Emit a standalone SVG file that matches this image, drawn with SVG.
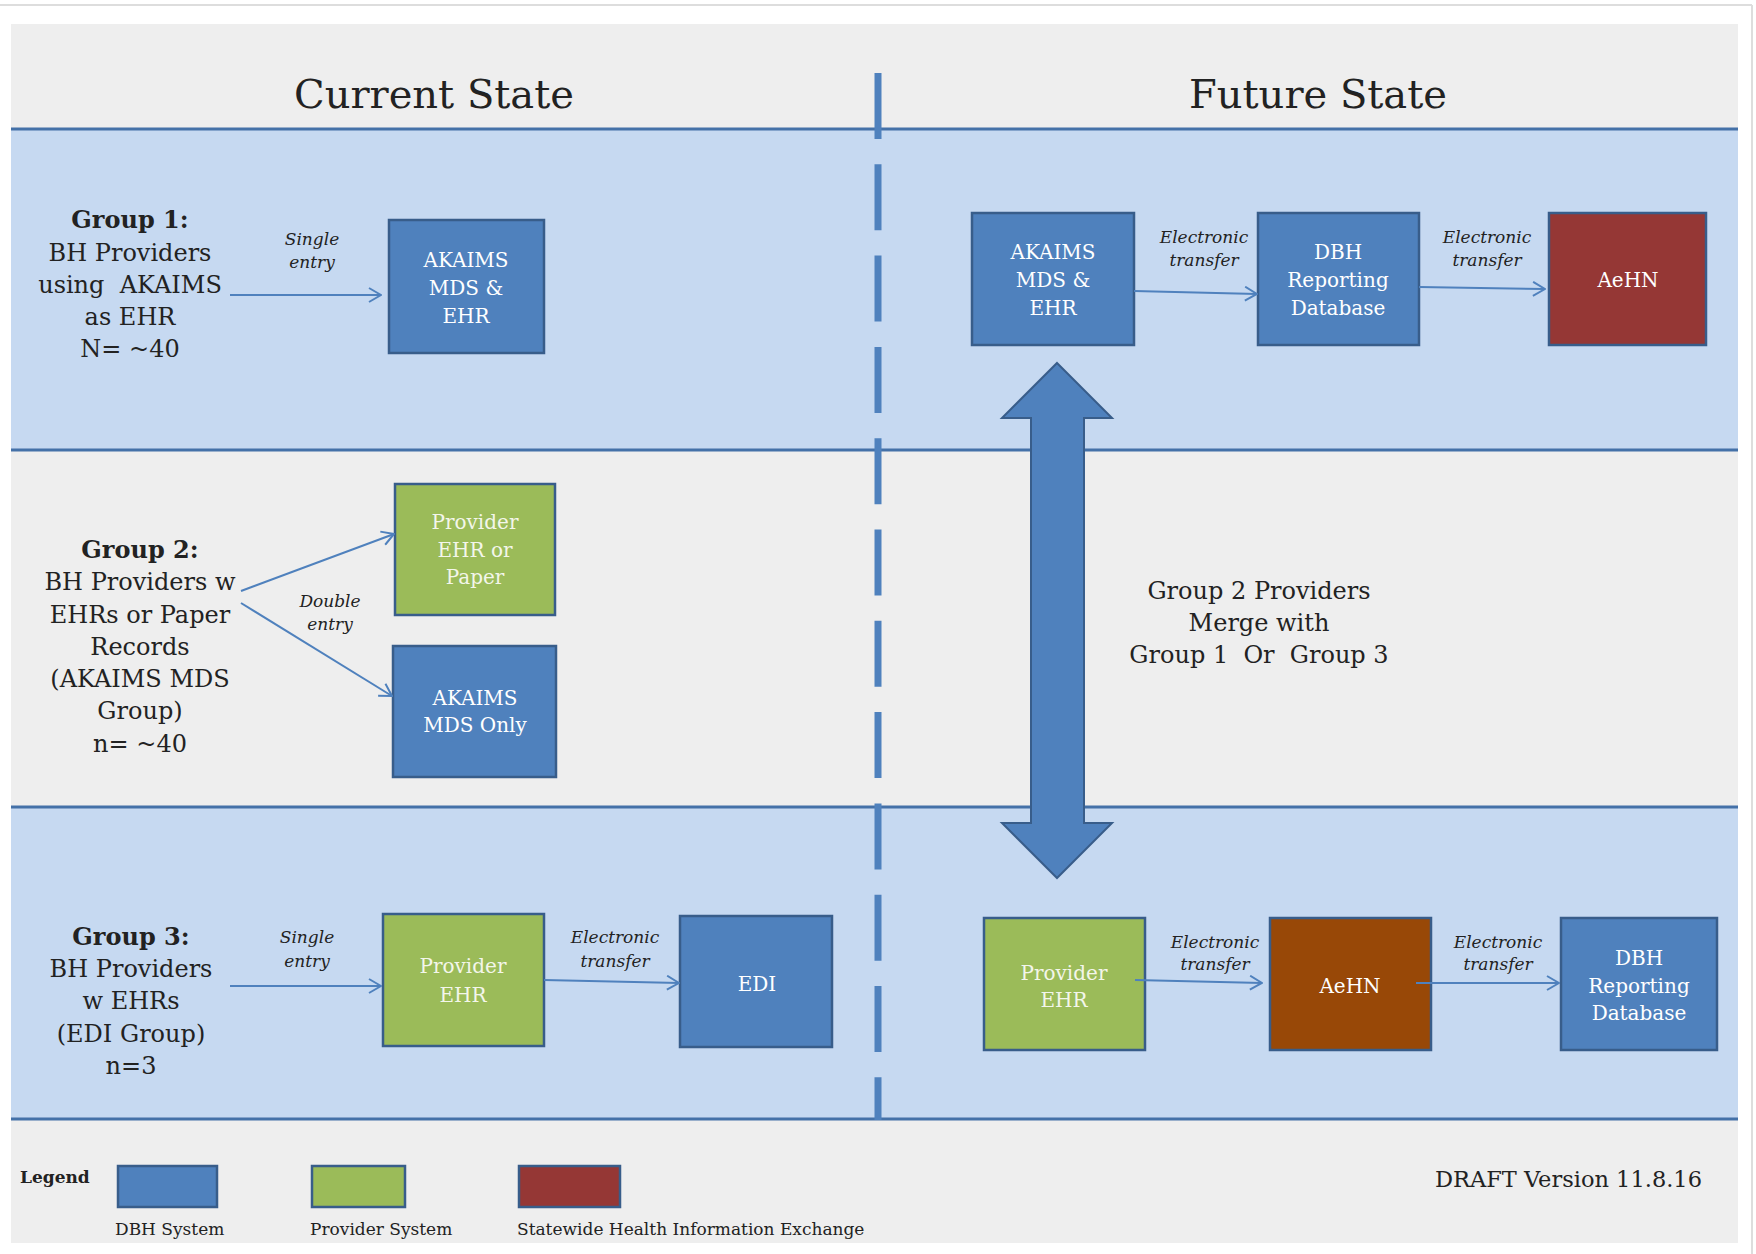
<svg xmlns="http://www.w3.org/2000/svg" width="1756" height="1254" viewBox="0 0 1756 1254">
<style>
.t{font-family:"DejaVu Serif","Liberation Serif",serif;fill:#222}
.title{font-size:40px;text-anchor:middle}
.body{font-size:24px;text-anchor:middle}
.pre{white-space:pre}
.b{font-weight:bold}
.lbl{font-size:17px;font-style:italic;text-anchor:middle}
.bx{font-family:"DejaVu Serif","Liberation Serif",serif;font-size:20px;fill:#ffffff;text-anchor:middle}
.gx{fill:#f3f6ea}
.blue{fill:#4f81bd;stroke:#385d8a;stroke-width:2.5}
.green{fill:#9bbb59;stroke:#385d8a;stroke-width:2.5}
.red{fill:#953735;stroke:#385d8a;stroke-width:2.5}
.orange{fill:#984807;stroke:#385d8a;stroke-width:2.5}
.conn{stroke:#4f81bd;stroke-width:2;fill:none;marker-end:url(#ah)}
.sep{stroke:#4471a8;stroke-width:3}
.leg{font-size:17px}
</style>
<defs>
<marker id="ah" viewBox="0 0 14 16" refX="13" refY="8" markerWidth="14" markerHeight="16" markerUnits="userSpaceOnUse" orient="auto">
<path d="M1,1 L13,8 L1,15" fill="none" stroke="#4f81bd" stroke-width="2"/>
</marker>
</defs>
<rect x="0" y="0" width="1756" height="1254" fill="#ffffff"/>
<line x1="0" y1="5" x2="1752" y2="5" stroke="#dddddd" stroke-width="2"/>
<line x1="1752" y1="5" x2="1752" y2="1254" stroke="#dddddd" stroke-width="2"/>
<g id="background">
<rect x="11" y="24" width="1727" height="1219" fill="#eeeeee"/>
<rect x="11" y="129" width="1727" height="321" fill="#c6d9f1"/>
<rect x="11" y="807" width="1727" height="312" fill="#c6d9f1"/>
<line class="sep" x1="11" y1="129" x2="1738" y2="129"/>
<line class="sep" x1="11" y1="450" x2="1738" y2="450"/>
<line class="sep" x1="11" y1="807" x2="1738" y2="807"/>
<line class="sep" x1="11" y1="1119" x2="1738" y2="1119"/>
<line x1="878" y1="73" x2="878" y2="1120" stroke="#4f81bd" stroke-width="7" stroke-dasharray="66 25.3"/>
<text class="t title" x="434" y="108">Current State</text>
<text class="t title" x="1318" y="108">Future State</text>
</g>
<g id="group1-label">
<text class="t body pre" x="130" xml:space="preserve"><tspan class="b" x="130" y="228">Group 1:</tspan><tspan x="130" y="261">BH Providers</tspan><tspan x="130" y="293">using  AKAIMS</tspan><tspan x="130" y="325">as EHR</tspan><tspan x="130" y="357">N= ~40</tspan></text>
</g>
<g id="group2-label">
<text class="t body" x="140"><tspan class="b" x="140" y="558">Group 2:</tspan><tspan x="140" y="590">BH Providers w</tspan><tspan x="140" y="623">EHRs or Paper</tspan><tspan x="140" y="655">Records</tspan><tspan x="140" y="687">(AKAIMS MDS</tspan><tspan x="140" y="719">Group)</tspan><tspan x="140" y="752">n= ~40</tspan></text>
</g>
<g id="group3-label">
<text class="t body" x="131"><tspan class="b" x="131" y="945">Group 3:</tspan><tspan x="131" y="977">BH Providers</tspan><tspan x="131" y="1009">w EHRs</tspan><tspan x="131" y="1042">(EDI Group)</tspan><tspan x="131" y="1074">n=3</tspan></text>
</g>
<g id="cur-akaims">
<rect class="blue" x="389" y="220" width="155" height="133"/>
<text class="bx"><tspan x="466" y="267">AKAIMS</tspan><tspan x="466" y="295">MDS &amp;</tspan><tspan x="466" y="323">EHR</tspan></text>
</g>
<g id="cur-provider-ehr-paper">
<rect class="green" x="395" y="484" width="160" height="131"/>
<text class="bx gx"><tspan x="475" y="529">Provider</tspan><tspan x="475" y="557">EHR or</tspan><tspan x="475" y="584">Paper</tspan></text>
</g>
<g id="cur-akaims-mds-only">
<rect class="blue" x="393" y="646" width="163" height="131"/>
<text class="bx"><tspan x="475" y="705">AKAIMS</tspan><tspan x="475" y="732">MDS Only</tspan></text>
</g>
<g id="cur-provider-ehr">
<rect class="green" x="383" y="914" width="161" height="132"/>
<text class="bx gx"><tspan x="463" y="973">Provider</tspan><tspan x="463" y="1002">EHR</tspan></text>
</g>
<g id="cur-edi">
<rect class="blue" x="680" y="916" width="152" height="131"/>
<text class="bx" x="757" y="991">EDI</text>
</g>
<g id="fut-akaims">
<rect class="blue" x="972" y="213" width="162" height="132"/>
<text class="bx"><tspan x="1053" y="259">AKAIMS</tspan><tspan x="1053" y="287">MDS &amp;</tspan><tspan x="1053" y="315">EHR</tspan></text>
</g>
<g id="fut-dbh-1">
<rect class="blue" x="1258" y="213" width="161" height="132"/>
<text class="bx"><tspan x="1338" y="259">DBH</tspan><tspan x="1338" y="287">Reporting</tspan><tspan x="1338" y="315">Database</tspan></text>
</g>
<g id="fut-aehn-1">
<rect class="red" x="1549" y="213" width="157" height="132"/>
<text class="bx" x="1628" y="287">AeHN</text>
</g>
<g id="merge-note">
<text class="t body pre" xml:space="preserve"><tspan x="1259" y="599">Group 2 Providers</tspan><tspan x="1259" y="631">Merge with</tspan><tspan x="1259" y="663">Group 1  Or  Group 3</tspan></text>
</g>
<g id="fut-provider-ehr">
<rect class="green" x="984" y="918" width="161" height="132"/>
<text class="bx gx"><tspan x="1064" y="980">Provider</tspan><tspan x="1064" y="1007">EHR</tspan></text>
</g>
<g id="fut-aehn-3">
<rect class="orange" x="1270" y="918" width="161" height="132"/>
<text class="bx" x="1350" y="993">AeHN</text>
</g>
<g id="fut-dbh-3">
<rect class="blue" x="1561" y="918" width="156" height="132"/>
<text class="bx"><tspan x="1639" y="965">DBH</tspan><tspan x="1639" y="993">Reporting</tspan><tspan x="1639" y="1020">Database</tspan></text>
</g>
<g id="connectors">
<polygon points="1057,363 1112,418 1084,418 1084,823 1112,823 1057,878 1002,823 1031,823 1031,418 1002,418" fill="#4f81bd" stroke="#385d8a" stroke-width="2"/>
<line class="conn" x1="230" y1="295" x2="381" y2="295"/>
<line class="conn" x1="241" y1="591" x2="394" y2="534"/>
<line class="conn" x1="241" y1="603" x2="392" y2="696"/>
<line class="conn" x1="230" y1="986" x2="381" y2="986"/>
<line class="conn" x1="544" y1="980" x2="679" y2="983"/>
<line class="conn" x1="1134" y1="291" x2="1257" y2="294"/>
<line class="conn" x1="1419" y1="287" x2="1545" y2="289"/>
<line class="conn" x1="1135" y1="980" x2="1262" y2="983"/>
<line class="conn" x1="1416" y1="983" x2="1559" y2="983"/>
<text class="t lbl"><tspan x="312" y="245">Single</tspan><tspan x="312" y="268">entry</tspan></text>
<text class="t lbl"><tspan x="330" y="607">Double</tspan><tspan x="330" y="630">entry</tspan></text>
<text class="t lbl"><tspan x="307" y="943">Single</tspan><tspan x="307" y="967">entry</tspan></text>
<text class="t lbl"><tspan x="615" y="943">Electronic</tspan><tspan x="615" y="967">transfer</tspan></text>
<text class="t lbl"><tspan x="1204" y="243">Electronic</tspan><tspan x="1204" y="266">transfer</tspan></text>
<text class="t lbl"><tspan x="1487" y="243">Electronic</tspan><tspan x="1487" y="266">transfer</tspan></text>
<text class="t lbl"><tspan x="1215" y="948">Electronic</tspan><tspan x="1215" y="970">transfer</tspan></text>
<text class="t lbl"><tspan x="1498" y="948">Electronic</tspan><tspan x="1498" y="970">transfer</tspan></text>
</g>
<g id="legend">
<text class="t leg b" x="20" y="1183">Legend</text>
<rect class="blue" x="118" y="1166" width="99" height="41"/>
<rect class="green" x="312" y="1166" width="93" height="41"/>
<rect class="red" x="519" y="1166" width="101" height="41"/>
<text class="t leg" x="115" y="1235">DBH System</text>
<text class="t leg" x="310" y="1235">Provider System</text>
<text class="t leg" x="517" y="1235">Statewide Health Information Exchange</text>
<text class="t" x="1702" y="1187" font-size="22.5" text-anchor="end">DRAFT Version 11.8.16</text>
</g>
</svg>
